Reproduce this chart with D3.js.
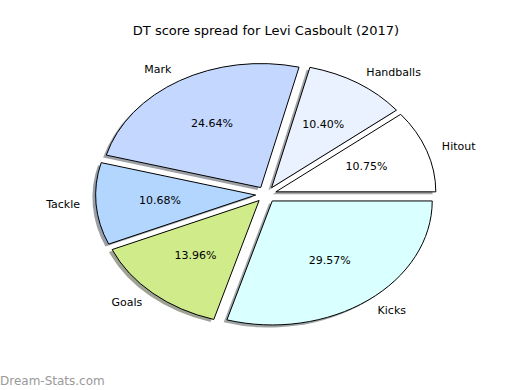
<!DOCTYPE html>
<html>
<head>
<meta charset="utf-8">
<script src="https://cdn.jsdelivr.net/npm/d3@7"></script>
<style>
  body { margin: 0; background: #fff; }
  text { font-family: "DejaVu Sans", sans-serif; }
</style>
</head>
<body>
<div id="chart"></div>
<script>
// wedge order follows the original: counter-clockwise from 3 o'clock
const labels = ['Hitout', 'Handballs', 'Mark', 'Tackle', 'Goals', 'Kicks'];
const shares = [10.75, 10.40, 24.64, 10.68, 13.96, 29.57];
const colors = ['#ffffff', '#eaf2ff', '#c4d8ff', '#b3d6ff', '#d0eb8a', '#d9ffff'];

const width = 520, height = 390;
const cx = 266, cy = 194.5;   // pie centre
const rx = 160, ry = 124;     // radius 1 in px (x / y)
const explode = 0.065;
const R = 100;                // radius used inside scaled group

const svg = d3.select('#chart').append('svg')
  .attr('width', width)
  .attr('height', height);

svg.append('text')
  .attr('x', cx).attr('y', 35)
  .attr('text-anchor', 'middle')
  .attr('font-size', 13)
  .text('DT score spread for Levi Casboult (2017)');

// d3 angles run clockwise from 12 o'clock, so go from pi/2 backwards
const pie = d3.pie().sort(null)
  .startAngle(Math.PI / 2)
  .endAngle(Math.PI / 2 - 2 * Math.PI);
const arcs = pie(shares);

const arc = d3.arc().innerRadius(0).outerRadius(R);

const g = svg.append('g')
  .attr('transform', `translate(${cx},${cy}) scale(${rx / R},${ry / R})`);

const mid = d => (d.startAngle + d.endAngle) / 2;
const off = d => [explode * R * Math.sin(mid(d)), -explode * R * Math.cos(mid(d))];

// shadows first, all below the wedges
g.selectAll('path.shadow')
  .data(arcs)
  .enter().append('path')
  .attr('class', 'shadow')
  .attr('d', arc)
  .attr('transform', d => { const o = off(d); return `translate(${o[0] - 0.02 * R},${o[1] + 0.02 * R})`; })
  .attr('fill', (d, i) => { const c = d3.rgb(colors[i]); return d3.rgb(c.r * 0.3, c.g * 0.3, c.b * 0.3); })
  .attr('fill-opacity', 0.5);

g.selectAll('path.wedge')
  .data(arcs)
  .enter().append('path')
  .attr('class', 'wedge')
  .attr('d', arc)
  .attr('transform', d => { const o = off(d); return `translate(${o[0]},${o[1]})`; })
  .attr('fill', (d, i) => colors[i])
  .attr('stroke', '#000')
  .attr('stroke-width', 1)
  .attr('vector-effect', 'non-scaling-stroke');

// labels at 1.1 r and percentages at 0.6 r (plus explode)
const at = (d, k) => [cx + (k + explode) * rx * Math.sin(mid(d)), cy - (k + explode) * ry * Math.cos(mid(d))];

svg.selectAll('text.name')
  .data(arcs)
  .enter().append('text')
  .attr('class', 'name')
  .attr('x', d => at(d, 1.1)[0])
  .attr('y', d => at(d, 1.1)[1])
  .attr('dy', '0.3em')
  .attr('font-size', 11)
  .attr('text-anchor', d => Math.sin(mid(d)) > 0 ? 'start' : 'end')
  .text((d, i) => labels[i]);

svg.selectAll('text.pct')
  .data(arcs)
  .enter().append('text')
  .attr('class', 'pct')
  .attr('x', d => at(d, 0.6)[0])
  .attr('y', d => at(d, 0.6)[1])
  .attr('dy', '0.3em')
  .attr('font-size', 11)
  .attr('text-anchor', 'middle')
  .text(d => d.data.toFixed(2) + '%');

svg.append('text')
  .attr('x', 0).attr('y', 385)
  .attr('font-size', 12)
  .attr('fill', '#999')
  .text('Dream-Stats.com');
</script>
</body>
</html>
